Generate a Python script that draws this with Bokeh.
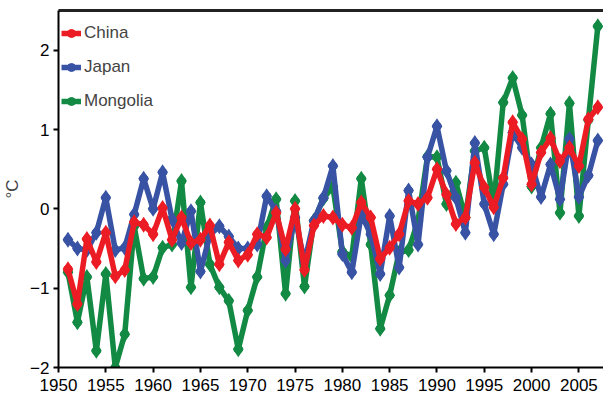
from bokeh.plotting import figure
from bokeh.models import Legend, LegendItem, FixedTicker, LinearAxis
from bokeh.embed import file_html
from bokeh.resources import INLINE

years = list(range(1951, 2008))

china = [-0.76, -1.20, -0.38, -0.67, -0.30, -0.85, -0.77, -0.17, -0.20, -0.32,
         0.01, -0.39, -0.11, -0.43, -0.39, -0.21, -0.70, -0.42, -0.65, -0.58,
         -0.32, -0.36, -0.05, -0.51, 0.00, -0.77, -0.21, -0.09, -0.11, -0.20,
         -0.24, 0.08, -0.11, -0.63, -0.49, -0.32, 0.10, 0.06, 0.14, 0.50,
         0.18, -0.19, -0.11, 0.58, 0.27, 0.02, 0.39, 1.09, 0.88, 0.31,
         0.71, 0.89, 0.60, 0.77, 0.54, 1.13, 1.28]

japan = [-0.39, -0.50, -0.52, -0.30, 0.14, -0.52, -0.49, -0.07, 0.38, 0.00,
         0.46, -0.13, -0.43, -0.03, -0.79, -0.33, -0.22, -0.35, -0.50, -0.50,
         -0.45, 0.16, -0.03, -0.65, -0.11, -0.67, -0.15, 0.14, 0.54, -0.57,
         -0.80, -0.07, -0.32, -0.82, -0.09, -0.74, 0.23, -0.45, 0.65, 1.04,
         0.48, 0.14, -0.30, 0.83, 0.06, -0.32, 0.31, 0.96, 0.77, 0.56,
         0.15, 0.56, 0.12, 0.88, 0.15, 0.42, 0.86]

mongolia = [-0.80, -1.43, -0.86, -1.79, -0.82, -2.00, -1.58, -0.22, -0.88, -0.86,
            -0.49, -0.45, 0.35, -0.99, 0.08, -0.70, -0.99, -1.16, -1.77, -1.28,
            -0.86, -0.24, 0.12, -1.07, 0.10, -0.98, -0.15, 0.13, 0.28, -0.54,
            -0.60, 0.38, -0.45, -1.51, -1.09, -0.55, -0.52, -0.15, 0.66, 0.65,
            0.06, 0.33, -0.11, 0.73, 0.77, 0.06, 1.34, 1.65, 1.18, 0.28,
            0.77, 1.20, -0.05, 1.33, -0.09, 1.12, 2.30]

series_names = ["China", "Japan", "Mongolia"]
series_colors = ["#ec1c24", "#3953a4", "#138a43"]

x_ticks = [1950, 1955, 1960, 1965, 1970, 1975, 1980, 1985, 1990, 1995, 2000, 2005]
y_ticks = [-2, -1, 0, 1, 2]

FONT = "Liberation Sans"

p = figure(frame_width=545, frame_height=357,
           x_range=(1950, 2007.6), y_range=(-2, 2.5),
           output_backend="svg", toolbar_location=None,
           min_border_left=44, min_border_right=0, min_border_top=10,
           min_border_bottom=24)
p.outline_line_color = None
p.xgrid.grid_line_color = None
p.ygrid.grid_line_color = None
p.background_fill_color = "white"

renderers = {}
data = {"China": china, "Japan": japan, "Mongolia": mongolia}
for name, color in reversed(list(zip(series_names, series_colors))):
    vals = data[name]
    ln = p.line(years, vals, line_color=color, line_width=5.5)
    sc = p.scatter(years, vals, marker="circle", size=8.5, fill_color=color,
                   line_color=color)
    dm = p.scatter(years, vals, marker="diamond", size=16, fill_color=color,
                   line_color=None)
    renderers[name] = [ln, sc]

xb = p.below[0]
yl = p.left[0]

for ax in (xb, yl):
    ax.axis_line_color = "black"
    ax.axis_line_width = 2
    ax.major_tick_line_color = "black"
    ax.major_tick_line_width = 2
    ax.major_tick_in = 0
    ax.major_tick_out = 5
    ax.minor_tick_line_color = None
    ax.major_label_text_font = FONT
    ax.major_label_text_font_size = "17px"
    ax.major_label_text_color = "black"

xb.ticker = FixedTicker(ticks=x_ticks)
yl.ticker = FixedTicker(ticks=y_ticks)
xb.major_label_standoff = 6
yl.major_label_standoff = 4
yl.axis_label = "°C"
yl.axis_label_text_font = FONT
yl.axis_label_text_font_size = "17px"
yl.axis_label_text_font_style = "normal"
yl.axis_label_standoff = 5

top_axis = LinearAxis(ticker=FixedTicker(ticks=[]),
                      axis_line_color="#222222", axis_line_width=3,
                      major_tick_line_color=None, minor_tick_line_color=None,
                      major_tick_out=0, major_tick_in=0,
                      major_label_text_font_size="0px", major_label_standoff=0)
p.add_layout(top_axis, "above")

legend = Legend(items=[LegendItem(label=n, renderers=renderers[n]) for n in series_names],
                location="top_left")
legend.title = " "
legend.title_text_font_size = "1px"
legend.title_standoff = 7
legend.margin = 3
legend.padding = 5
legend.spacing = 10
legend.glyph_width = 20
legend.glyph_height = 24
legend.label_height = 24
legend.label_standoff = 3
legend.label_text_font = FONT
legend.label_text_font_size = "17px"
legend.background_fill_alpha = 0
legend.border_line_color = None
p.add_layout(legend)

open("out.html", "w").write(file_html(p, INLINE))
